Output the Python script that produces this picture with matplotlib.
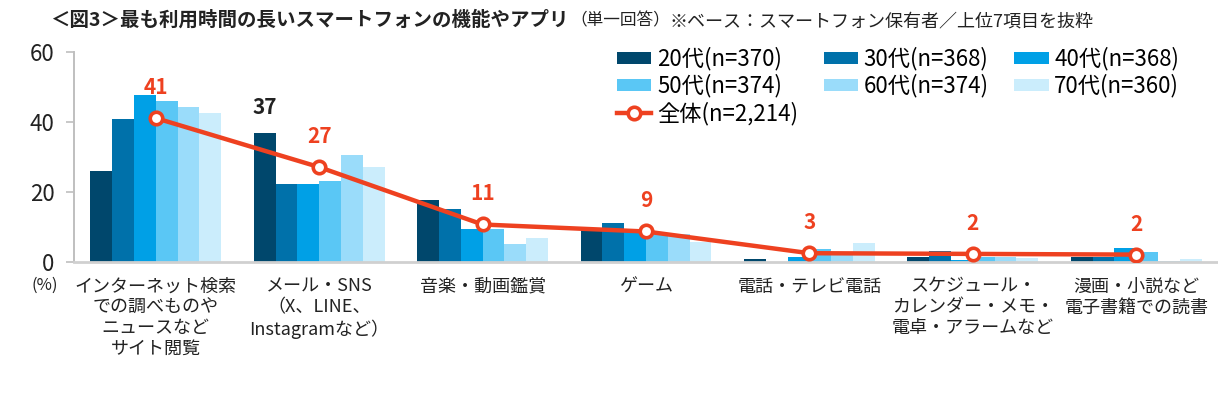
#!/usr/bin/env python3
"""Smartphone feature with the longest usage time, by age group (bar) and overall (line)."""

import matplotlib.pyplot as plt
import numpy as np

plt.rcParams["font.family"] = ["Noto Sans CJK JP", "DejaVu Sans"]

CATEGORIES = [
    "インターネット検索\nでの調べものや\nニュースなど\nサイト閲覧",
    "メール・SNS\n（X、LINE、\nInstagramなど）",
    "音楽・動画鑑賞",
    "ゲーム",
    "電話・テレビ電話",
    "スケジュール・\nカレンダー・メモ・\n電卓・アラームなど",
    "漫画・小説など\n電子書籍での読書",
]
AGE_LABELS = ["20代(n=370)", "30代(n=368)", "40代(n=368)",
              "50代(n=374)", "60代(n=374)", "70代(n=360)"]
AGE_20 = [26.2, 37.0, 17.7, 9.4, 0.9, 1.6, 1.6]
AGE_30 = [41.0, 22.3, 15.1, 11.1, 0.1, 3.3, 1.6]
AGE_40 = [47.9, 22.3, 9.4, 8.7, 1.5, 0.6, 4.0]
AGE_50 = [46.1, 23.3, 9.4, 8.4, 3.7, 1.5, 3.0]
AGE_60 = [44.4, 30.7, 5.1, 8.2, 2.5, 1.5, 0.5]
AGE_70 = [42.7, 27.2, 6.9, 5.8, 5.4, 1.2, 0.9]
TOTAL_LABEL = "全体(n=2,214)"
TOTAL = [41.2, 27.2, 10.8, 8.8, 2.6, 2.4, 2.2]
TOTAL_TEXT = ["41", "27", "11", "9", "3", "2", "2"]

COLORS = ["#00476C", "#0071AA", "#00A0E6", "#5AC7F5", "#9ADCFA", "#CBEDFC"]
LINE_COLOR = "#EE4120"

fig = plt.figure(figsize=(12.18, 3.94), dpi=100)
ax = fig.add_axes([74 / 1218, 1 - 262.3 / 394, 1 - 74 / 1218, 210 / 394])

x = np.arange(len(CATEGORIES))
series = [AGE_20, AGE_30, AGE_40, AGE_50, AGE_60, AGE_70]
width = 0.8 / len(series)
handles = []
for i, (vals, color, label) in enumerate(zip(series, COLORS, AGE_LABELS)):
    b = ax.bar(x + (i - 2.5) * width, vals, width, color=color, label=label, zorder=2)
    handles.append(b)

(line,) = ax.plot(
    x, TOTAL, color=LINE_COLOR, linewidth=3.2, marker="o", markersize=9,
    markerfacecolor="white", markeredgecolor=LINE_COLOR, markeredgewidth=2.6,
    label=TOTAL_LABEL, zorder=3,
)

for xi, yi, txt in zip(x, TOTAL, TOTAL_TEXT):
    ax.annotate(txt, (xi, yi), xytext=(0, 22), textcoords="offset points",
                ha="center", va="center", color=LINE_COLOR, fontsize=15,
                fontweight="bold")
# highlighted value for the 20s on mail/SNS
ax.annotate(f"{AGE_20[1]:.0f}", (x[1] - 2.5 * width, AGE_20[1]), xytext=(0, 18),
            textcoords="offset points", ha="center", va="center",
            color="#222222", fontsize=15, fontweight="bold")

ax.set_xlim(-0.5, len(CATEGORIES) - 0.5)
ax.set_ylim(0, 60)
ax.set_yticks([0, 20, 40, 60])
ax.tick_params(axis="y", labelsize=16, colors="#BFBFBF", labelcolor="#222222",
               length=6, width=1.2, pad=8)
ax.set_xticks(x)
ax.set_xticklabels(CATEGORIES, fontsize=13, color="#222222", linespacing=1.2)
ax.tick_params(axis="x", length=0, pad=11)

for side in ["top", "right"]:
    ax.spines[side].set_visible(False)
ax.spines["left"].set_color("#BFBFBF")
ax.spines["left"].set_linewidth(1.4)
ax.spines["bottom"].set_color("#D0D0D0")
ax.spines["bottom"].set_linewidth(2)

fig.text(45 / 1218, 1 - 285 / 394, "(%)", fontsize=12, color="#222222",
         ha="center", va="center")

order = [handles[0], handles[3], line, handles[1], handles[4], handles[2], handles[5]]
fig.legend(
    handles=order, labels=[h.get_label() for h in order],
    loc="upper left", bbox_to_anchor=(617 / 1218, 1 - 47 / 394),
    ncol=3, frameon=False, fontsize=16, handlelength=1.55, handleheight=0.45,
    handletextpad=0.25, columnspacing=1.15, labelspacing=0.16, borderaxespad=0,
    borderpad=0,
)

fig.text(50 / 1218, 1 - 20 / 394, "＜図3＞最も利用時間の長いスマートフォンの機能やアプリ",
         fontsize=14, fontweight="bold", ha="left", va="center", color="#222222")
fig.text(570 / 1218, 1 - 21 / 394, "（単一回答）", fontsize=12, ha="left",
         va="center", color="#222222")
fig.text(670 / 1218, 1 - 21 / 394, "※ベース：スマートフォン保有者／上位7項目を抜粋",
         fontsize=13, ha="left", va="center", color="#222222")

fig.savefig("out.png", dpi=100)
